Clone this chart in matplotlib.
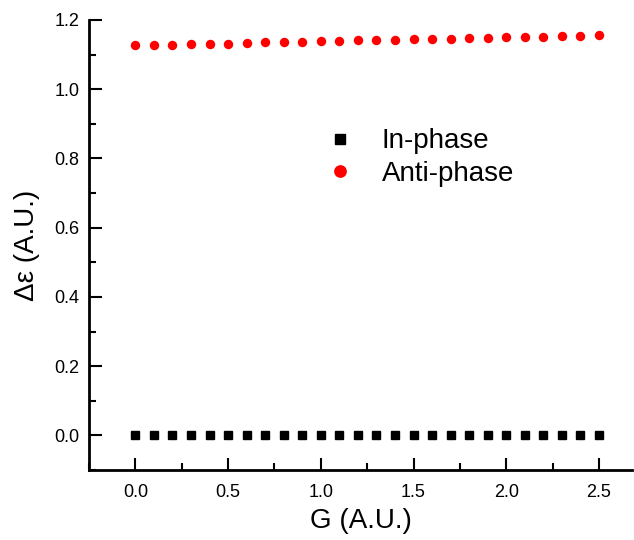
import numpy as np
import matplotlib.pyplot as plt
from matplotlib.ticker import MultipleLocator

plt.rcParams['font.family'] = ['Liberation Sans', 'DejaVu Sans']

g = [0.0, 0.1, 0.2, 0.3, 0.4, 0.5, 0.6, 0.7, 0.8, 0.9, 1.0, 1.1, 1.2,
     1.3, 1.4, 1.5, 1.6, 1.7, 1.8, 1.9, 2.0, 2.1, 2.2, 2.3, 2.4, 2.5]
in_phase = [0.0] * 26
anti_phase = [1.127, 1.128, 1.129, 1.130, 1.131, 1.132, 1.134, 1.135, 1.136,
              1.137, 1.138, 1.140, 1.141, 1.142, 1.143, 1.144, 1.145, 1.146,
              1.147, 1.149, 1.150, 1.151, 1.152, 1.153, 1.154, 1.156]

fig = plt.figure(figsize=(6.34, 5.40), dpi=100)
ax = fig.add_axes([0.1404, 0.1296, 0.857, 0.8334])

ax.plot(g, in_phase, 's', color='black', markersize=5.8, label='In-phase')
ax.plot(g, anti_phase, 'o', color='red', markersize=6.8, markeredgewidth=0, label='Anti-phase')

ax.set_xlim(-0.25, 2.68)
ax.set_ylim(-0.1, 1.2)
ax.xaxis.set_major_locator(MultipleLocator(0.5))
ax.xaxis.set_minor_locator(MultipleLocator(0.25))
ax.yaxis.set_major_locator(MultipleLocator(0.2))
ax.yaxis.set_minor_locator(MultipleLocator(0.1))
ax.xaxis.set_major_formatter(plt.FormatStrFormatter('%.1f'))
ax.yaxis.set_major_formatter(plt.FormatStrFormatter('%.1f'))

for s in ['top', 'right']:
    ax.spines[s].set_visible(False)
for s in ['left', 'bottom']:
    ax.spines[s].set_linewidth(2)

ax.tick_params(which='major', direction='in', length=9, width=1.5, labelsize=13)
ax.tick_params(axis='y', which='major', pad=7)
ax.tick_params(axis='x', which='major', pad=10)
ax.tick_params(which='minor', direction='in', length=5, width=1.5)

ax.set_xlabel('G (A.U.)', fontsize=20, labelpad=5)
ax.set_ylabel('Δε (A.U.)', fontsize=20, labelpad=10)

ax.legend(loc='upper left', bbox_to_anchor=(0.39, 0.815), frameon=False,
          fontsize=20, handletextpad=1.0, labelspacing=0.25, handlelength=1.0,
          markerscale=1.35)

plt.savefig('out.png', dpi=100)
